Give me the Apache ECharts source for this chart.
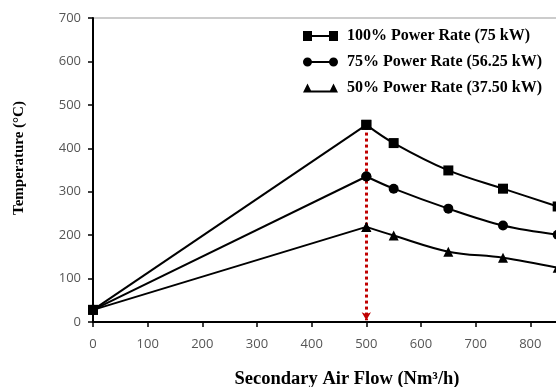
<!DOCTYPE html>
<html><head><meta charset="utf-8">
<script src="https://cdn.jsdelivr.net/npm/echarts@6/dist/echarts.min.js"></script>
<style>html,body{margin:0;padding:0;background:#fff;overflow:hidden}#c{width:600px;height:387px}</style>
</head><body><div id="c"></div>
<script>
const airFlow = [0, 500, 550, 650, 750, 850];
const rate100 = [28, 454, 412, 349, 307, 266];
const rate75 = [28, 335, 307, 261, 222, 201];
const rate50 = [28, 219, 199, 162, 148, 125];
const seriesNames = ['100% Power Rate (75 kW)', '75% Power Rate (56.25 kW)', '50% Power Rate (37.50 kW)'];
const xTicks = [0, 100, 200, 300, 400, 500, 600, 700, 800, 900];
const yTicks = [0, 100, 200, 300, 400, 500, 600, 700];
const arrowX = 500;
const arrowFrom = 450;
const arrowTo = 4;

const icons = [
  'path://M0,0H9V10H0Z M9,4H26V6H9Z M26,0H35V10H26Z',
  'path://M0,5A4.5,4.5 0 1 1 9,5A4.5,4.5 0 1 1 0,5Z M8,4H27V6H8Z M26,5A4.5,4.5 0 1 1 35,5A4.5,4.5 0 1 1 26,5Z',
  'path://M0,10L4.5,1L9,10Z M8,8H27V10H8Z M26,10L30.5,1L35,10Z'
];
const symbols = ['rect', 'circle', 'triangle'];
const symSizes = [10, 10, 10];
const datasets = [rate100, rate75, rate50];

const chart = echarts.init(document.getElementById('c'), null, {renderer: 'canvas'});
const series = [];
const peakIdx = 1;
datasets.forEach((d, i) => {
  const pts = airFlow.map((x, j) => [x, d[j]]);
  series.push({
    name: seriesNames[i], type: 'line', data: pts.slice(0, peakIdx + 1), smooth: false,
    symbol: symbols[i], symbolSize: symSizes[i],
    itemStyle: {color: '#000'}, lineStyle: {color: '#000', width: 2}, z: 3
  });
  series.push({
    name: seriesNames[i], type: 'line', data: pts.slice(peakIdx), smooth: 0.35,
    symbol: symbols[i], symbolSize: symSizes[i],
    itemStyle: {color: '#000'}, lineStyle: {color: '#000', width: 2}, z: 3
  });
});
series[0].markLine = {
  silent: true,
  symbol: ['none', 'arrow'],
  symbolSize: [7, 8],
  label: {show: false},
  lineStyle: {color: '#c00000', type: [3, 3], width: 3},
  data: [[{coord: [arrowX, arrowFrom]}, {coord: [arrowX, arrowTo]}]],
  z: 2
};

chart.setOption({
  animation: false,
  backgroundColor: '#fff',
  grid: {left: 93, top: 18, right: 15, bottom: 65, outerBoundsMode: 'none', containLabel: false, show: true, borderColor: '#999', borderWidth: 1},
  legend: {
    orient: 'vertical', left: 298, top: 23,
    itemWidth: 35, itemHeight: 10, itemGap: 10,
    data: seriesNames.map((n, i) => ({name: n, icon: icons[i]})),
    textStyle: {fontFamily: 'Liberation Serif', fontWeight: 'bold', fontSize: 16, color: '#000', padding: [0, 0, 0, 4]},
    itemStyle: {color: '#000'}
  },
  xAxis: {
    type: 'value', min: xTicks[0], max: xTicks[xTicks.length - 1], interval: 100,
    name: 'Secondary Air Flow (Nm³/h)', nameLocation: 'middle', nameGap: 48,
    nameTextStyle: {fontFamily: 'Liberation Serif', fontWeight: 'bold', fontSize: 18.5, color: '#000', padding: [0, 0, 0, 16]},
    axisLine: {onZero: false, lineStyle: {color: '#000', width: 2}},
    axisTick: {show: true, length: 5, lineStyle: {color: '#000', width: 1.5}},
    axisLabel: {color: '#555', fontFamily: 'Open Sans', fontSize: 13, margin: 16},
    splitLine: {show: false}
  },
  yAxis: {
    type: 'value', min: yTicks[0], max: yTicks[yTicks.length - 1], interval: 100,
    name: 'Temperature (°C)', nameLocation: 'middle', nameGap: 66, nameRotate: 90,
    nameTextStyle: {fontFamily: 'Liberation Serif', fontWeight: 'bold', fontSize: 15, color: '#000', padding: [0, 0, 0, 24]},
    axisLine: {show: true, lineStyle: {color: '#000', width: 2}},
    axisTick: {show: true, length: 5, lineStyle: {color: '#000', width: 1.5}},
    axisLabel: {color: '#555', fontFamily: 'Open Sans', fontSize: 13, margin: 12},
    splitLine: {show: false}
  },
  series: series
});
</script></body></html>
